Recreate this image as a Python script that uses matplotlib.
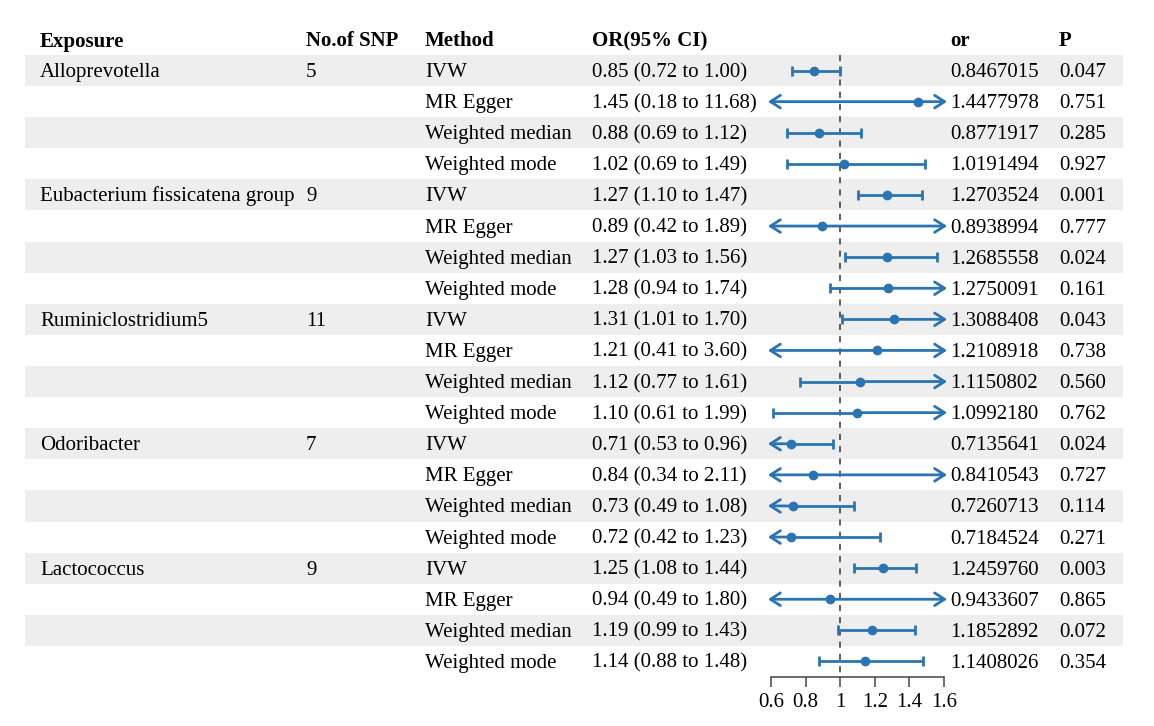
import matplotlib
matplotlib.use("Agg")
import matplotlib.pyplot as plt

plt.rcParams['font.family'] = ['Liberation Serif', 'DejaVu Serif']

exposures = ["Alloprevotella", "Eubacterium fissicatena group", "Ruminiclostridium5",
             "Odoribacter", "Lactococcus"]
n_snp = [5, 9, 11, 7, 9]
methods = ["IVW", "MR Egger", "Weighted median", "Weighted mode"]
or_vals = [0.8467015, 1.4477978, 0.8771917, 1.0191494,
           1.2703524, 0.8938994, 1.2685558, 1.2750091,
           1.3088408, 1.2108918, 1.1150802, 1.0992180,
           0.7135641, 0.8410543, 0.7260713, 0.7184524,
           1.2459760, 0.9433607, 1.1852892, 1.1408026]
ci_low = [0.72, 0.18, 0.69, 0.69,
          1.10, 0.42, 1.03, 0.94,
          1.01, 0.41, 0.77, 0.61,
          0.53, 0.34, 0.49, 0.42,
          1.08, 0.49, 0.99, 0.88]
ci_high = [1.00, 11.68, 1.12, 1.49,
           1.47, 1.89, 1.56, 1.74,
           1.70, 3.60, 1.61, 1.99,
           0.96, 2.11, 1.08, 1.23,
           1.44, 1.80, 1.43, 1.48]
p_vals = [0.047, 0.751, 0.285, 0.927,
          0.001, 0.777, 0.024, 0.161,
          0.043, 0.738, 0.560, 0.762,
          0.024, 0.727, 0.114, 0.271,
          0.003, 0.865, 0.072, 0.354]
x_ticks = [0.6, 0.8, 1, 1.2, 1.4, 1.6]
x_tick_labels = ["0.6", "0.8", "1", "1.2", "1.4", "1.6"]

W, H = 1154, 726
fig = plt.figure(figsize=(W / 100, H / 100), dpi=100)
bg = fig.add_axes([0, 0, 1, 1])
bg.set_xlim(0, W)
bg.set_ylim(H, 0)
bg.axis('off')

blue = '#2a74b3'
fs = 15
top = 55
row_h = 31.1
n_rows = len(or_vals)
base = 6.5  # baseline offset below row centre

def row_y(i):
    return top + row_h * (i + 0.5)

# shaded bands
for i in range(n_rows):
    if i % 2 == 0:
        bg.add_patch(plt.Rectangle((25, top + row_h * i), 1098, row_h,
                                   color='#eeeeee', lw=0, zorder=0))

# headers
hy = 40 + base
cols = {"Exposure": 40, "No.of SNP": 306, "Method": 425, "OR(95% CI)": 592,
        "or": 950, "P": 1059}
for name, x in cols.items():
    bg.text(x, hy, name, fontsize=fs, fontweight='bold', va='baseline', ha='left')

for i in range(n_rows):
    y = row_y(i) + base
    if i % 4 == 0:
        bg.text(40, y, exposures[i // 4], fontsize=fs, va='baseline')
        bg.text(306, y, str(n_snp[i // 4]), fontsize=fs, va='baseline')
    bg.text(425, y, methods[i % 4], fontsize=fs, va='baseline')
    bg.text(592, y, f"{or_vals[i]:.2f} ({ci_low[i]:.2f} to {ci_high[i]:.2f})",
            fontsize=fs, va='baseline')
    bg.text(950, y, f"{or_vals[i]:.7f}", fontsize=fs, va='baseline')
    bg.text(1059, y, f"{p_vals[i]:.3f}", fontsize=fs, va='baseline')

# forest panel
fx = fig.add_axes([771 / W, 0, (944 - 771) / W, 1])
fx.set_xlim(0.6, 1.6)
fx.set_ylim(H, 0)
fx.patch.set_alpha(0)
for s in ['left', 'right', 'top']:
    fx.spines[s].set_visible(False)
axis_y = top + row_h * n_rows
fx.spines['bottom'].set_position(('data', axis_y))
fx.spines['bottom'].set_color('#444444')
fx.spines['bottom'].set_linewidth(1.1)
fx.set_yticks([])
fx.set_xticks(x_ticks)
fx.set_xticklabels(x_tick_labels, fontsize=fs)
fx.tick_params(axis='x', direction='out', length=7.5, width=1.1, color='#444444', pad=4)

fx.plot([1, 1], [top, axis_y], ls=(0, (4, 4)), color='#333333', lw=1.1, zorder=1)

lo_lim, hi_lim = 0.6, 1.6
ext = 0.018
arrow = dict(arrowstyle='->,head_length=0.55,head_width=0.35', color=blue, lw=2,
             shrinkA=0, shrinkB=0, mutation_scale=13)
for i in range(n_rows):
    y = row_y(i)
    lo, hi, est = ci_low[i], ci_high[i], or_vals[i]
    if lo < lo_lim:
        fx.annotate('', xy=(lo_lim - ext, y), xytext=(est, y),
                    arrowprops=arrow, annotation_clip=False, zorder=3)
    else:
        fx.plot([lo, est], [y, y], color=blue, lw=2, solid_capstyle='butt', zorder=3)
        fx.plot([lo], [y], marker='|', ms=7.5, mew=2, color=blue, zorder=3)
    if hi > hi_lim:
        fx.annotate('', xy=(hi_lim + ext, y), xytext=(est, y),
                    arrowprops=arrow, annotation_clip=False, zorder=3)
    else:
        fx.plot([est, hi], [y, y], color=blue, lw=2, solid_capstyle='butt', zorder=3)
        fx.plot([hi], [y], marker='|', ms=7.5, mew=2, color=blue, zorder=3)
    fx.plot([est], [y], marker='o', ms=6, color=blue, zorder=4)

fig.savefig('out.png', dpi=100)
